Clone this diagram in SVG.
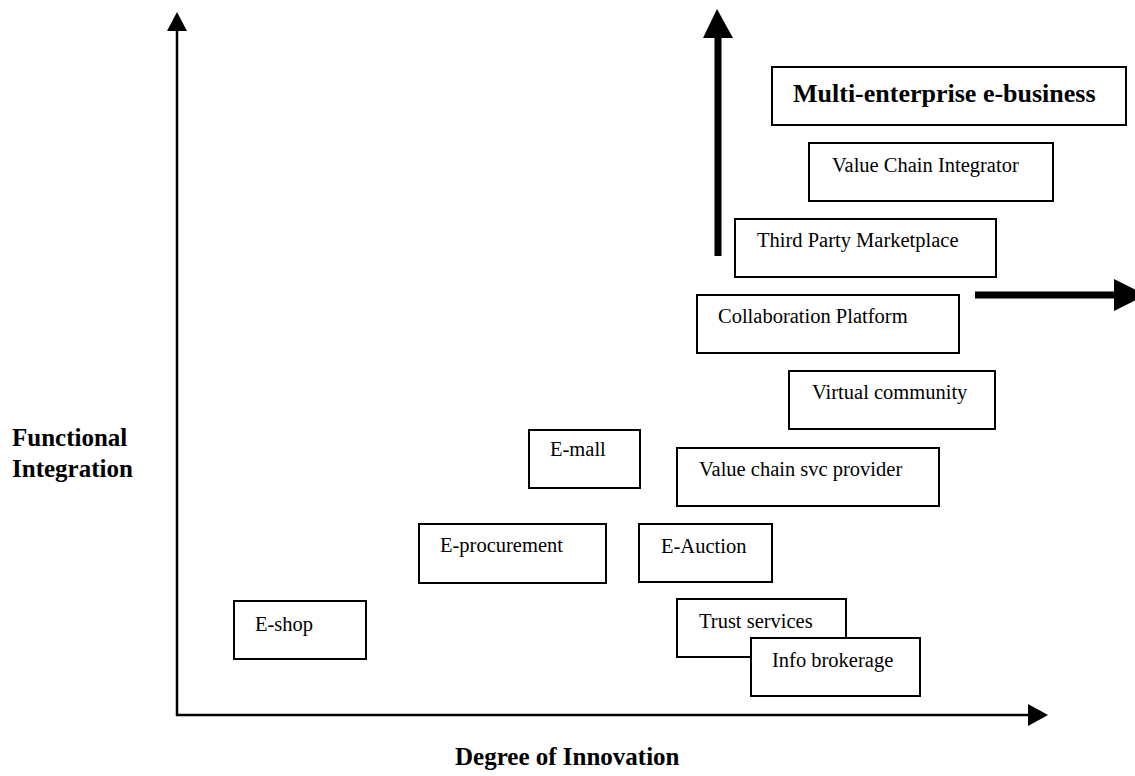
<svg xmlns="http://www.w3.org/2000/svg" width="1135" height="776" viewBox="0 0 1135 776">
  <style>
    .box { fill: #ffffff; stroke: #000000; stroke-width: 2; }
    .lbl { font-family: "Liberation Serif", "Times New Roman", serif; font-size: 20.5px; fill: #000000; }
    .bold { font-family: "Liberation Serif", "Times New Roman", serif; font-size: 25px; font-weight: bold; fill: #000000; }
    .title { font-size: 26px; }
    .axis { stroke: #000000; stroke-width: 2.5; fill: none; }
    .thick { stroke: #000000; stroke-width: 7; fill: none; }
  </style>
  <rect x="0" y="0" width="1135" height="776" fill="#ffffff"/>

  <!-- axes and trend arrows -->
  <g id="connectors">
    <polyline class="axis" points="177,30 177,715 1030,715"/>
    <polygon points="177,12 167,31 187,31" fill="#000000"/>
    <polygon points="1048,715 1028,704 1028,726" fill="#000000"/>
    <line class="thick" x1="718" y1="256" x2="718" y2="36"/>
    <polygon points="717,9 703,38 733,38" fill="#000000"/>
    <line class="thick" x1="975" y1="295" x2="1116" y2="295"/>
    <polygon points="1146,295 1114,279 1114,311" fill="#000000"/>
  </g>

  <!-- axis titles -->
  <g id="axis-labels">
    <text class="bold" x="12" y="446">Functional</text>
    <text class="bold" x="12" y="477">Integration</text>
    <text class="bold" x="455" y="765">Degree of Innovation</text>
  </g>

  <g id="multi-enterprise">
    <rect class="box" x="772" y="67" width="354" height="58"/>
    <text class="bold title" x="793" y="102">Multi-enterprise e-business</text>
  </g>
  <g id="value-chain-integrator">
    <rect class="box" x="809" y="143" width="244" height="58"/>
    <text class="lbl" x="832" y="172">Value Chain Integrator</text>
  </g>
  <g id="third-party-marketplace">
    <rect class="box" x="735" y="219" width="261" height="58"/>
    <text class="lbl" x="757" y="247">Third Party Marketplace</text>
  </g>
  <g id="collaboration-platform">
    <rect class="box" x="697" y="295" width="262" height="58"/>
    <text class="lbl" x="718" y="323">Collaboration Platform</text>
  </g>
  <g id="virtual-community">
    <rect class="box" x="789" y="371" width="206" height="58"/>
    <text class="lbl" x="812" y="399">Virtual community</text>
  </g>
  <g id="value-chain-svc-provider">
    <rect class="box" x="677" y="448" width="262" height="58"/>
    <text class="lbl" x="699" y="476">Value chain svc provider</text>
  </g>
  <g id="e-mall">
    <rect class="box" x="529" y="430" width="111" height="58"/>
    <text class="lbl" x="550" y="456">E-mall</text>
  </g>
  <g id="e-procurement">
    <rect class="box" x="419" y="524" width="187" height="59"/>
    <text class="lbl" x="440" y="552">E-procurement</text>
  </g>
  <g id="e-auction">
    <rect class="box" x="639" y="524" width="133" height="58"/>
    <text class="lbl" x="661" y="553">E-Auction</text>
  </g>
  <g id="e-shop">
    <rect class="box" x="234" y="601" width="132" height="58"/>
    <text class="lbl" x="255" y="631">E-shop</text>
  </g>
  <g id="trust-services">
    <rect class="box" x="677" y="599" width="169" height="58"/>
    <text class="lbl" x="699" y="628">Trust services</text>
  </g>
  <g id="info-brokerage">
    <rect class="box" x="751" y="638" width="169" height="58"/>
    <text class="lbl" x="772" y="667">Info brokerage</text>
  </g>
</svg>
